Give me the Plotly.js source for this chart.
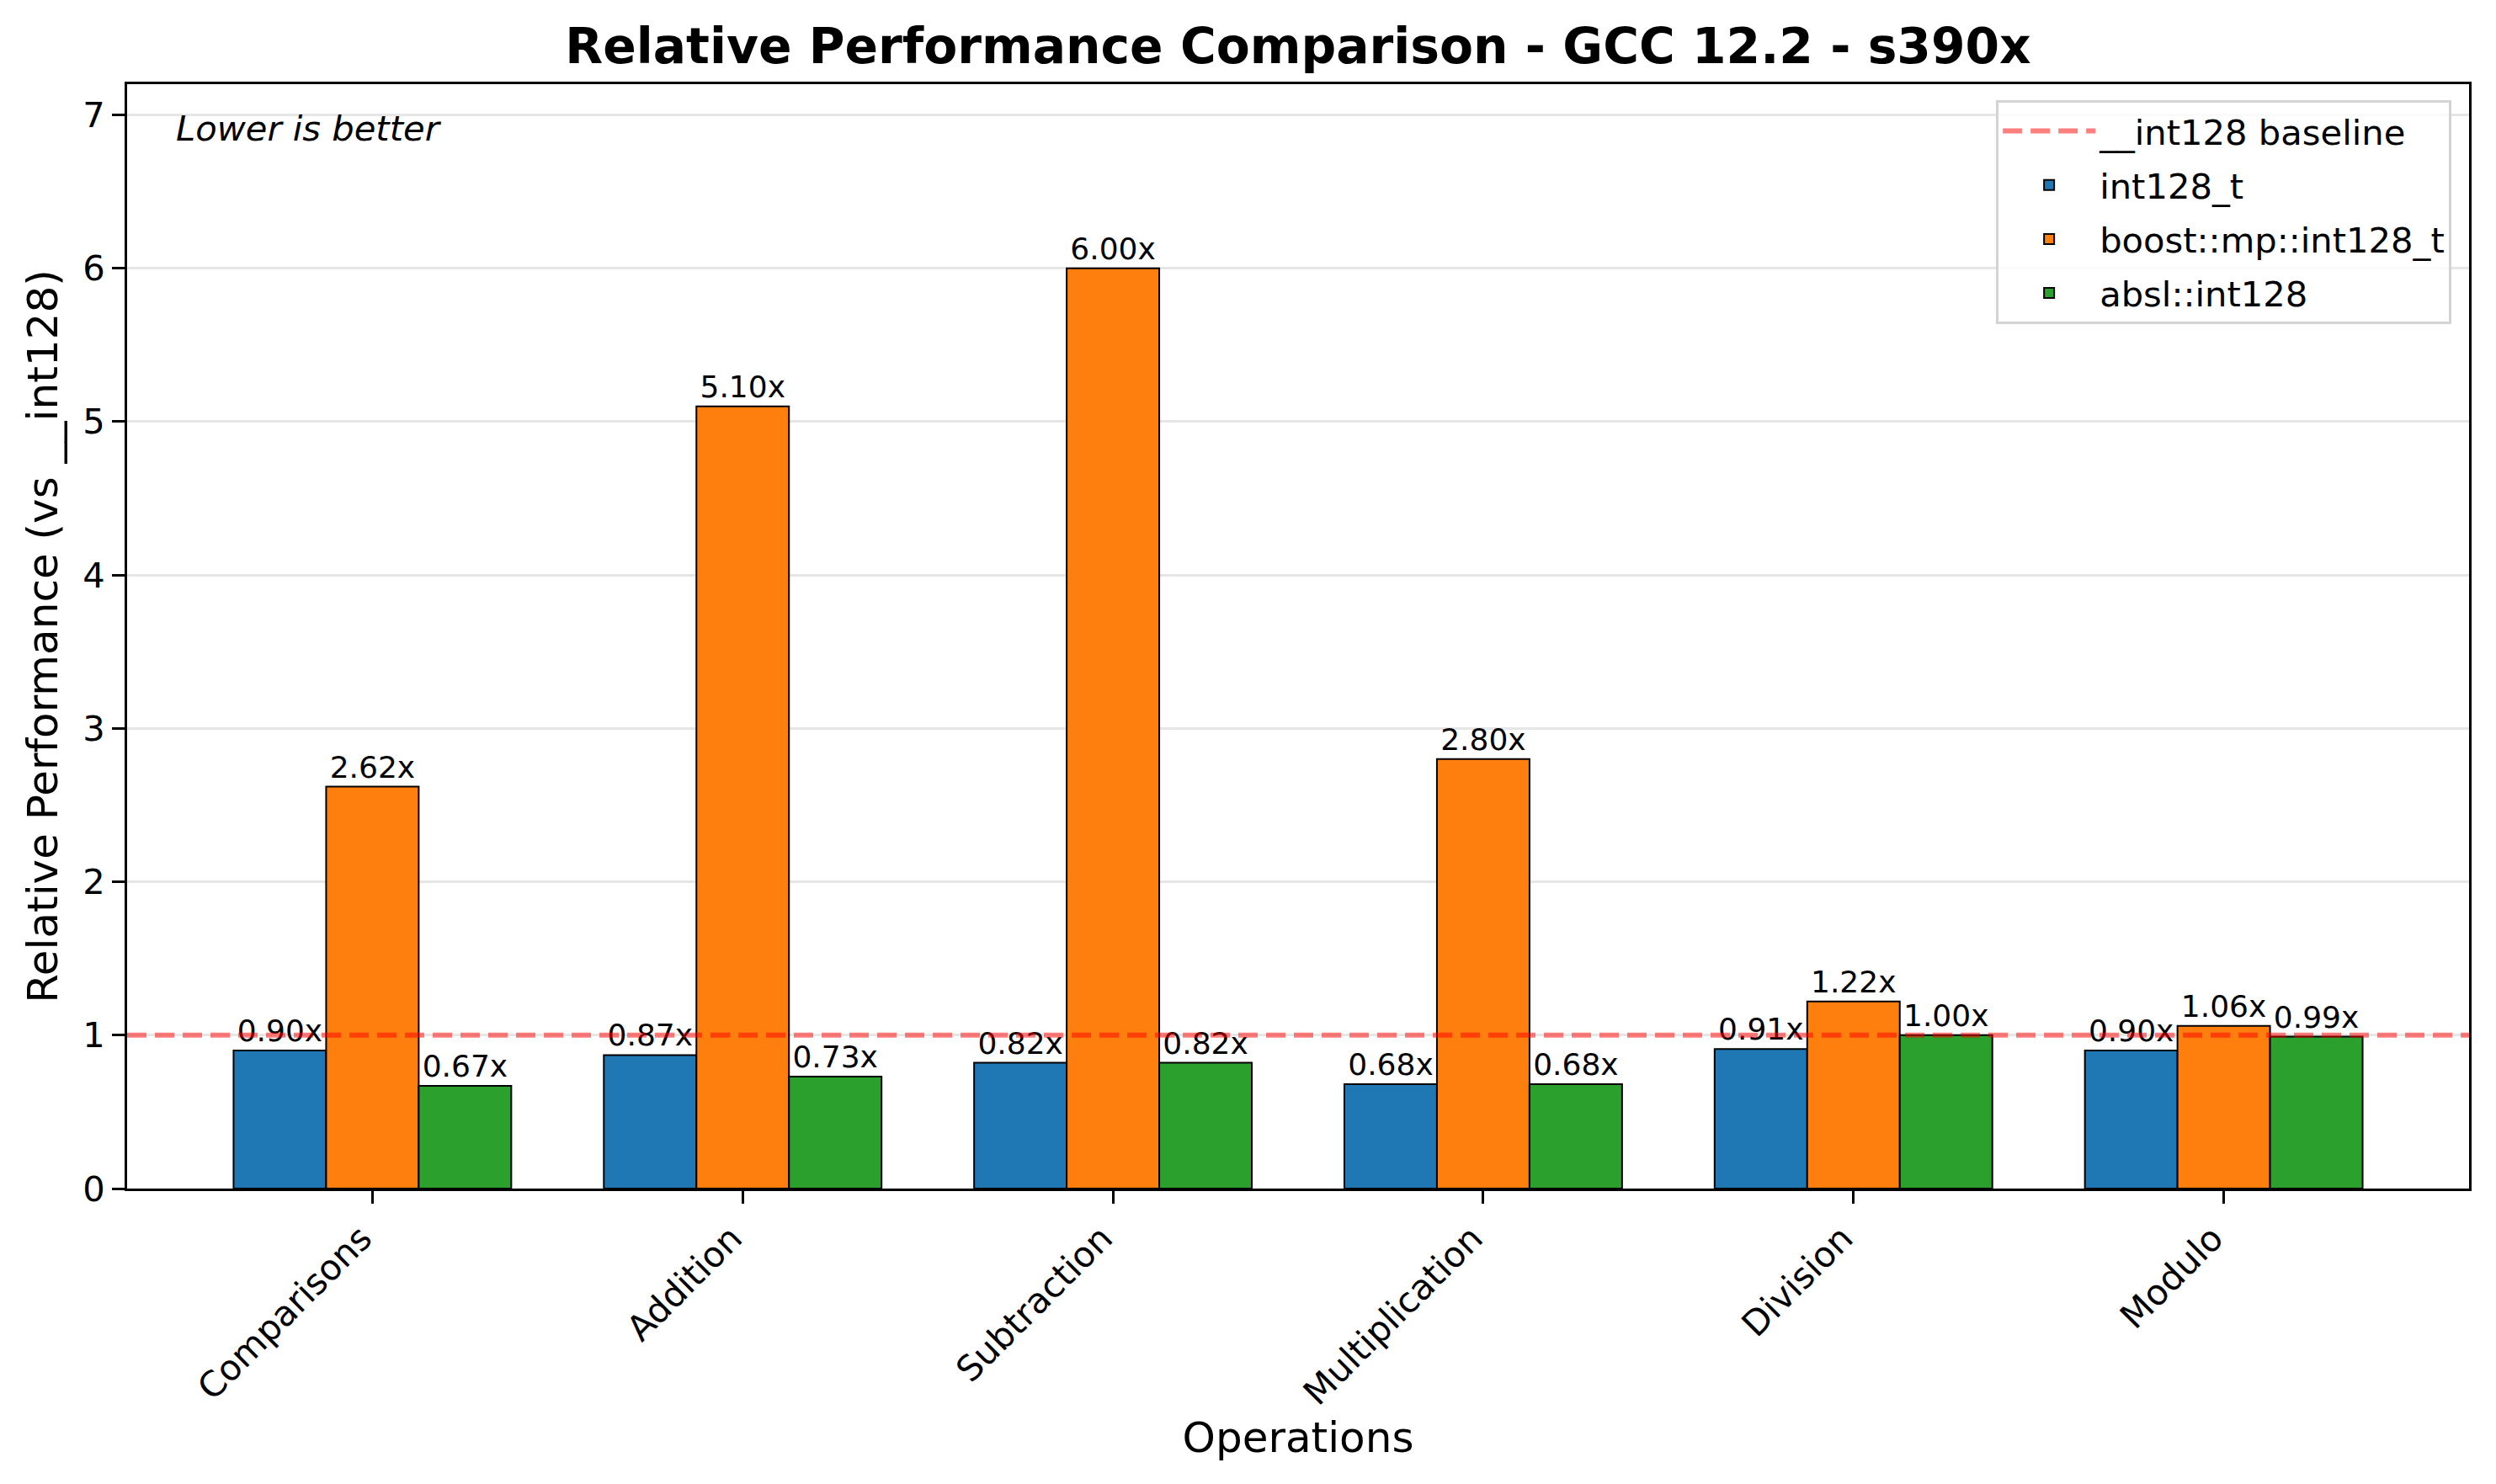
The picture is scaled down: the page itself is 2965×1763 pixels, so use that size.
<!DOCTYPE html>
<html>
<head>
<meta charset="utf-8">
<script src="https://cdn.plot.ly/plotly-3.0.1.min.js"></script>
<style>html,body{margin:0;padding:0;background:#fff;}#chart{width:2965px;height:1763px;}</style>
</head>
<body>
<div id="chart"></div>
<script>
const categories = ["Comparisons", "Addition", "Subtraction", "Multiplication", "Division", "Modulo"];
const int128_t = [0.90, 0.87, 0.82, 0.68, 0.91, 0.90];
const boost_int128_t = [2.62, 5.10, 6.00, 2.80, 1.22, 1.06];
const absl_int128 = [0.67, 0.73, 0.82, 0.68, 1.00, 0.99];
const baselineValue = 1.0;
const seriesNames = ["int128_t", "boost::mp::int128_t", "absl::int128"];
const seriesColors = ["#1f77b4", "#ff7f0e", "#2ca02c"];
const yTicks = [0, 1, 2, 3, 4, 5, 6, 7];

const FONT = "DejaVu Sans";
const seriesValues = [int128_t, boost_int128_t, absl_int128];

const barTraces = seriesValues.map((vals, i) => ({
  type: "bar",
  name: seriesNames[i],
  legendgroup: "g" + (i + 1),
  x: categories,
  y: vals,
  marker: {color: seriesColors[i], line: {color: "#000000", width: 2}},
  texttemplate: "%{y:.2f}x",
  textposition: "outside",
  constraintext: "none",
  cliponaxis: false,
  textfont: {family: FONT, size: 36, color: "#000000"},
  hoverinfo: "skip"
}));

const baselineTrace = {
  type: "scatter",
  mode: "lines",
  name: "__int128 baseline",
  legendgroup: "g0",
  x: [0, 1],
  y: [baselineValue, baselineValue],
  xaxis: "x2",
  yaxis: "y",
  line: {color: "rgba(255,0,0,0.5)", width: 6, dash: "23px,10px"},
  hoverinfo: "skip"
};

const data = [baselineTrace].concat(barTraces);

const layout = {
  width: 2965,
  height: 1763,
  paper_bgcolor: "#ffffff",
  plot_bgcolor: "#ffffff",
  font: {family: FONT, color: "#000000"},
  margin: {l: 151, r: 32, t: 100, b: 351, pad: 0},
  barmode: "group",
  bargap: 0.25,
  bargroupgap: 0,
  showlegend: true,
  title: {
    text: "<b>Relative Performance Comparison - GCC 12.2 - s390x</b>",
    font: {family: FONT, size: 58.3, color: "#000000"},
    x: 0.5, xref: "paper", xanchor: "center",
    y: 1 - 55 / 1763, yref: "container", yanchor: "middle"
  },
  xaxis: {
    type: "category",
    categoryorder: "array",
    categoryarray: categories,
    range: [-0.6625, 5.6625],
    showgrid: false,
    zeroline: false,
    showline: true, linecolor: "#000000", linewidth: 3, mirror: true,
    ticks: "outside", ticklen: 15, tickwidth: 3, tickcolor: "#000000",
    tickangle: -45,
    ticklabelshift: -13,
    tickfont: {family: FONT, size: 41.67, color: "#000000"},
    title: {text: "Operations", font: {family: FONT, size: 50, color: "#000000"}, standoff: 5},
    automargin: false
  },
  xaxis2: {
    overlaying: "x",
    range: [0, 1],
    visible: false,
    showgrid: false,
    zeroline: false,
    fixedrange: true
  },
  yaxis: {
    range: [0, 7.2],
    tickvals: yTicks,
    ticktext: yTicks.map(String),
    showgrid: true, gridcolor: "#e6e6e6", gridwidth: 3,
    zeroline: false,
    showline: true, linecolor: "#000000", linewidth: 3, mirror: true,
    ticks: "outside", ticklen: 15, tickwidth: 3, tickcolor: "#000000",
    tickfont: {family: FONT, size: 41.67, color: "#000000"},
    title: {text: "Relative Performance (vs __int128)", font: {family: FONT, size: 50, color: "#000000"}, standoff: 14},
    automargin: false
  },
  legend: {
    x: 0.9925, y: 0.9855, xanchor: "right", yanchor: "top",
    xref: "paper", yref: "paper",
    bgcolor: "rgba(255,255,255,0.8)",
    bordercolor: "#d3d3d3", borderwidth: 3,
    font: {family: FONT, size: 41.67, color: "#000000"},
    itemwidth: 110,
    traceorder: "grouped",
    tracegroupgap: 7
  },
  annotations: [{
    text: "<i>Lower is better</i>",
    xref: "paper", yref: "paper",
    x: 0.02, y: 0.98, xanchor: "left", yanchor: "top",
    showarrow: false,
    font: {family: FONT, size: 41.67, color: "#000000"}
  }]
};

Plotly.newPlot("chart", data, layout, {staticPlot: true, displayModeBar: false});
</script>
</body>
</html>
